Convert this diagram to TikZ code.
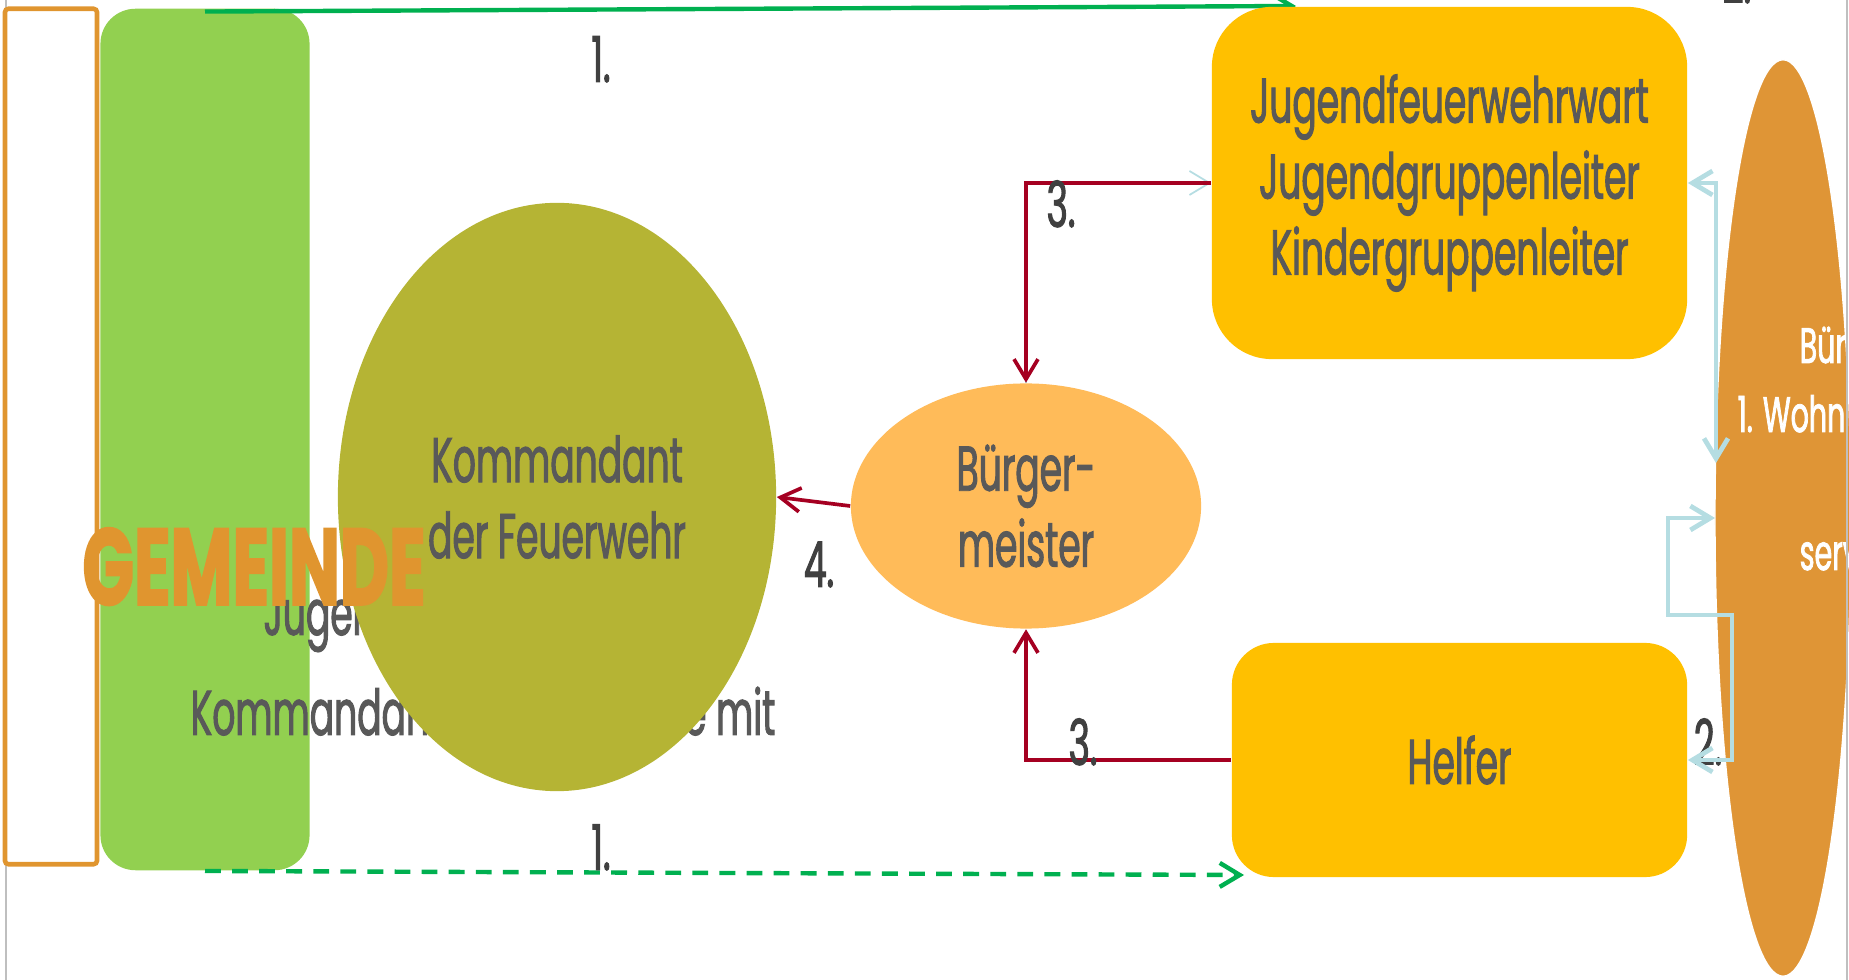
\documentclass[tikz,border=0pt]{standalone}
\usepackage{fontspec}
\setmainfont{Poppins}[FakeStretch=0.57, FakeBold=1.5]
\newfontfamily\gemfont{Poppins}[FakeStretch=0.62, FakeBold=1.5]
\usetikzlibrary{arrows.meta,positioning,shapes.geometric}

\definecolor{gemgreen}{HTML}{92D050}
\definecolor{gemorange}{HTML}{E0952F}
\definecolor{ovalorange}{HTML}{DF9536}
\definecolor{kommolive}{HTML}{B5B434}
\definecolor{bmorange}{HTML}{FFBB59}
\definecolor{groupyellow}{HTML}{FFC000}
\definecolor{linkred}{HTML}{A50021}
\definecolor{linkblue}{HTML}{B5DDE2}
\definecolor{linkgreen}{HTML}{00B050}
\definecolor{textgray}{HTML}{595959}
\definecolor{labelgray}{HTML}{404040}
\definecolor{framegray}{HTML}{BFBFBF}

\newcommand\mainsize{\fontsize{18}{21.6}\selectfont}
\newcommand\gemsize{\fontsize{31}{36}\selectfont}
\newcommand\svcsize{\fontsize{14.2}{19.6}\selectfont}

\begin{document}
\begin{tikzpicture}[x=0.01cm, y=-0.01cm,
    panel/.style={rectangle, inner sep=0pt, align=center, text=textgray, font=\mainsize},
    oval/.style={ellipse, inner sep=0pt, align=center, text=textgray, font=\mainsize},
    numlabel/.style={anchor=base, inner sep=0pt, text=labelgray, font=\mainsize},
    hidetext/.style={inner sep=0pt, text=textgray, font=\mainsize},
    svctext/.style={anchor=base west, inner sep=0pt, text=white, font=\svcsize},
    redlink/.style={draw=linkred, line width=1.05pt, -{Straight Barb[length=2mm,width=2.4mm]}},
    bluelink/.style={draw=linkblue, line width=1.35pt, {Straight Barb[length=2mm,width=2.4mm]}-{Straight Barb[length=2mm,width=2.4mm]}},
    greenlink/.style={draw=linkgreen, line width=1.25pt, -{Straight Barb[length=2mm,width=2.4mm]}},
]
\useasboundingbox (0,0) rectangle (1849,980);
\clip (0,0) rectangle (1849,980);

\draw[framegray, line width=0.6pt] (6,0) -- (6,980);

% Gemeinde
\node[draw=gemorange, line width=1.3pt, rounded corners=1pt, minimum width=0.92cm, minimum height=8.55cm, inner sep=0pt] (gemframe) at (51,436.5) {};
\node[panel, fill=gemgreen, rounded corners=0.35cm, minimum width=2.09cm, minimum height=8.61cm] (gemeinde) at (205,439.5) {};

\coordinate (topend) at (1296,6);
\coordinate (botend) at (1244,875);
\draw[greenlink] ([yshift=-1pt]gemeinde.north) -- (topend);
\draw[greenlink, dash pattern=on 4.5pt off 3.2pt] (gemeinde.south) -- (botend);

\node[hidetext, anchor=base west] (jtext) at (263,635) {Jugen};
\node[hidetext, anchor=base west] (ktext) at (190,735) {Kommandan};
\node[hidetext, anchor=base east] (mtext) at (776,735) {e mit};

% Kommandant
\node[oval, fill=kommolive, minimum width=4.38cm, minimum height=5.88cm] (komm) at (557,497) {Kommandant\\der Feuerwehr};
\node[anchor=base, inner sep=0pt, text=gemorange, font=\gemsize\gemfont\bfseries] (gemtitle) at (254,605) {GEMEINDE};

% Buergermeister, groups
\node[oval, fill=bmorange, minimum width=3.5cm, minimum height=2.45cm] (bm) at (1026,506) {Bürger-\\meister};
\node[panel, fill=groupyellow, rounded corners=0.6cm, minimum width=4.75cm, minimum height=3.52cm] (jugend) at (1449.5,183) {Jugendfeuerwehrwart\\Jugendgruppenleiter\\Kindergruppenleiter};
\node[panel, fill=groupyellow, rounded corners=0.42cm, minimum width=4.55cm, minimum height=2.34cm] (helfer) at (1459.5,760) {Helfer};

\draw[linkblue, line width=0.5pt, -{Straight Barb[length=2mm,width=2.4mm]}] (bm.north) |- (jugend.west);
\draw[redlink] (jugend.west) -| (bm.north);
\draw[redlink] (helfer.west) -| (bm.south);
\draw[redlink] (bm.west) -- (komm.east);

\node[numlabel] (n1top) at (601,82) {1.};
\node[numlabel] (n1bot) at (601,870) {1.};
\node[numlabel] (n3top) at (1061,227) {3.};
\node[numlabel] (n3bot) at (1083,765) {3.};
\node[numlabel] (n4) at (819,587) {4.};
\node[numlabel] (n2) at (1708,765) {2.};

% right oval
\node[ellipse, fill=ovalorange, draw=white, line width=0.4pt, minimum width=1.36cm, minimum height=9.16cm, inner sep=0pt] (service) at (1783,518) {};
\node[svctext] (svc1) at (1799,363) {Bür};
\node[svctext] (svc2) at (1737,432) {1. Wohn};
\node[svctext] (svc3) at (1799,570) {serv};

\coordinate (ovaltop) at (1716,463);
\coordinate (ovalmid) at (1715,518);
\draw[bluelink] (jugend.east) -| (ovaltop);
\draw[bluelink] (helfer.east) -| (1732,615) -| (1668,518) -- (ovalmid);

\draw[framegray, line width=0.6pt] (1847,0) -- (1847,980);
\node[numlabel] (n2top) at (1737,3) {2.};
\end{tikzpicture}
\end{document}
